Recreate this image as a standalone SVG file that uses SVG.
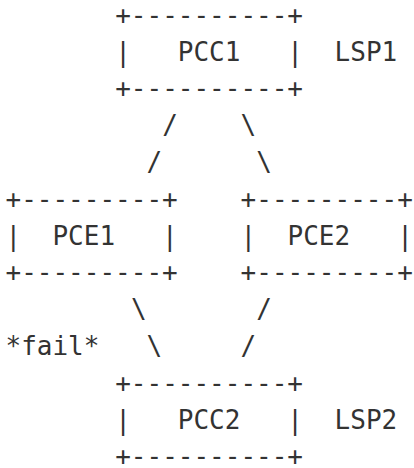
<svg xmlns="http://www.w3.org/2000/svg" width="414" height="468" viewBox="0 0 414 468" xml:space="preserve">
<style>
text{font-family:"DejaVu Sans Mono","Liberation Mono",monospace;font-size:26px;fill:#333;white-space:pre}
</style>
<rect width="414" height="468" fill="#fff"/>
<g id="PCC1">
<text x="115.2" y="23.7">+----------+</text>
<text x="115.2" y="60.5">|   PCC1   |</text>
<text x="115.2" y="97.3">+----------+</text>
</g>
<g id="PCE1">
<text x="5.5" y="207.7">+---------+</text>
<text x="5.5" y="244.5">|  PCE1   |</text>
<text x="5.5" y="281.3">+---------+</text>
</g>
<g id="PCE2">
<text x="240.6" y="207.7">+---------+</text>
<text x="240.6" y="244.5">|  PCE2   |</text>
<text x="240.6" y="281.3">+---------+</text>
</g>
<g id="PCC2">
<text x="115.2" y="391.7">+----------+</text>
<text x="115.2" y="428.5">|   PCC2   |</text>
<text x="115.2" y="465.3">+----------+</text>
</g>
<g id="connectors">
<text x="162.2" y="134.1">/</text>
<text x="240.6" y="134.1">\</text>
<text x="146.5" y="170.9">/</text>
<text x="256.2" y="170.9">\</text>
<text x="130.9" y="318.1">\</text>
<text x="256.2" y="318.1">/</text>
<text x="146.5" y="354.9">\</text>
<text x="240.6" y="354.9">/</text>
</g>
<g id="labels">
<text x="334.6" y="60.5">LSP1</text>
<text x="334.6" y="428.5">LSP2</text>
<text x="5.5" y="354.9">*fail*</text>
</g>
</svg>
